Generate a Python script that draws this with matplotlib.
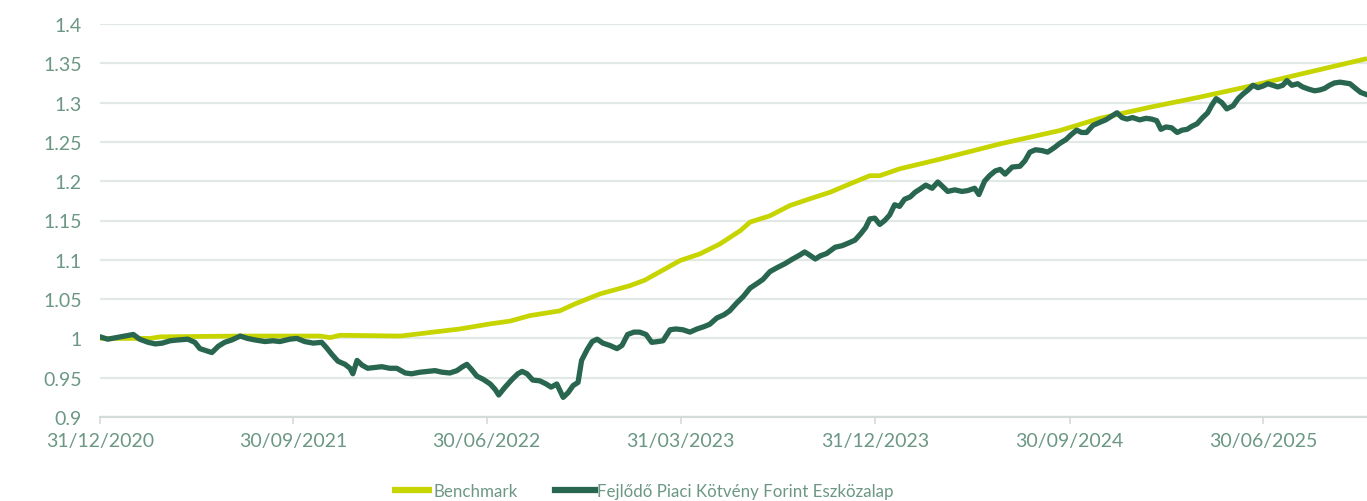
import matplotlib
matplotlib.use("Agg")
import matplotlib.pyplot as plt
import matplotlib.dates as mdates
import pandas as pd

# ---- data ----
start_date = "2020-12-31"
end_date = "2025-11-24"

# days elapsed since 31/12/2020, and index values
fund_days = [0, 11, 23, 35, 47, 56, 68, 78, 88, 99, 110, 124, 134, 141, 151, 158, 167, 176, 186, 198,
             208, 219, 233, 244, 254, 268, 278, 289, 301, 313, 320, 328, 336, 346, 353, 357, 363, 370,
             378, 388, 398, 409, 419, 431, 440, 452, 463, 473, 483, 494, 504, 512, 518, 525, 532, 541,
             551, 558, 563, 572, 582, 590, 596, 603, 611, 621, 630, 637, 645, 654, 661, 668, 675, 680,
             688, 695, 702, 710, 720, 730, 737, 745, 754, 762, 771, 779, 788, 795, 805, 813, 823, 833,
             843, 853, 861, 871, 881, 889, 899, 908, 918, 928, 936, 946, 956, 967, 978, 988, 995, 1002,
             1010, 1017, 1026, 1038, 1048, 1056, 1066, 1074, 1081, 1087, 1094, 1101, 1108, 1115, 1122,
             1129, 1136, 1144, 1151, 1158, 1166, 1175, 1183, 1190, 1197, 1207, 1217, 1225, 1235, 1241,
             1249, 1256, 1264, 1271, 1278, 1288, 1299, 1306, 1313, 1321, 1330, 1338, 1348, 1355, 1364,
             1371, 1379, 1386, 1393, 1402, 1412, 1420, 1429, 1436, 1443, 1450, 1458, 1468, 1477, 1485,
             1492, 1498, 1505, 1513, 1521, 1528, 1535, 1542, 1549, 1557, 1564, 1570, 1576, 1584, 1591,
             1600, 1607, 1614, 1621, 1628, 1635, 1642, 1649, 1656, 1663, 1670, 1676, 1683, 1691, 1698,
             1707, 1715, 1722, 1729, 1736, 1743, 1751, 1765, 1773, 1780, 1789]
fund_values = [1.002, 0.999, 1.001, 1.003, 1.005, 0.999, 0.995, 0.993, 0.994, 0.997, 0.998, 0.999, 0.995,
               0.987, 0.984, 0.982, 0.990, 0.995, 0.998, 1.003, 1.000, 0.998, 0.996, 0.997, 0.996, 0.999,
               1.000, 0.996, 0.994, 0.995, 0.988, 0.979, 0.971, 0.967, 0.962, 0.955, 0.972, 0.966, 0.962,
               0.963, 0.964, 0.962, 0.962, 0.956, 0.955, 0.957, 0.958, 0.959, 0.957, 0.956, 0.959, 0.964,
               0.967, 0.960, 0.952, 0.948, 0.942, 0.935, 0.928, 0.938, 0.948, 0.955, 0.958, 0.955, 0.947,
               0.946, 0.942, 0.938, 0.942, 0.925, 0.931, 0.940, 0.944, 0.972, 0.986, 0.996, 0.999, 0.994,
               0.991, 0.987, 0.991, 1.005, 1.008, 1.008, 1.005, 0.995, 0.996, 0.997, 1.011, 1.012, 1.011,
               1.008, 1.012, 1.015, 1.018, 1.026, 1.030, 1.035, 1.045, 1.053, 1.064, 1.070, 1.075, 1.085,
               1.090, 1.095, 1.101, 1.106, 1.110, 1.106, 1.101, 1.105, 1.108, 1.116, 1.118, 1.121, 1.125,
               1.133, 1.141, 1.152, 1.153, 1.145, 1.150, 1.157, 1.170, 1.168, 1.177, 1.180, 1.186, 1.190,
               1.195, 1.191, 1.199, 1.193, 1.187, 1.189, 1.187, 1.188, 1.191, 1.183, 1.200, 1.207, 1.213,
               1.215, 1.209, 1.218, 1.219, 1.226, 1.237, 1.240, 1.239, 1.237, 1.243, 1.248, 1.253, 1.259,
               1.265, 1.262, 1.262, 1.271, 1.275, 1.278, 1.283, 1.287, 1.281, 1.279, 1.281, 1.278, 1.280,
               1.279, 1.277, 1.266, 1.269, 1.268, 1.262, 1.265, 1.266, 1.270, 1.273, 1.281, 1.287, 1.297,
               1.305, 1.300, 1.292, 1.296, 1.305, 1.311, 1.316, 1.322, 1.319, 1.321, 1.324, 1.322, 1.320,
               1.322, 1.328, 1.322, 1.324, 1.320, 1.317, 1.315, 1.316, 1.318, 1.322, 1.325, 1.326, 1.324,
               1.318, 1.313, 1.310]

bench_days = [0, 71, 85, 198, 311, 325, 339, 424, 452, 508, 551, 579, 607, 649, 671, 706, 748, 769, 819,
              847, 875, 904, 918, 946, 974, 1002, 1031, 1059, 1087, 1101, 1129, 1186, 1271, 1355, 1412,
              1482, 1553, 1624, 1694, 1789]
bench_values = [1.000, 1.000, 1.002, 1.003, 1.003, 1.001, 1.004, 1.003, 1.006, 1.012, 1.0185, 1.022,
                1.029, 1.035, 1.044, 1.0566, 1.067, 1.074, 1.099, 1.1075, 1.120, 1.137, 1.148, 1.156,
                1.169, 1.1775, 1.186, 1.1966, 1.207, 1.207, 1.2157, 1.228, 1.2475, 1.2644, 1.280,
                1.294, 1.307, 1.321, 1.336, 1.356]

series_names = ["Benchmark", "Fejlődő Piaci Kötvény Forint Eszközalap"]
x_tick_dates = ["2020-12-31", "2021-09-30", "2022-06-30", "2023-03-31",
                "2023-12-31", "2024-09-30", "2025-06-30"]
y_ticks = [0.9, 0.95, 1.0, 1.05, 1.1, 1.15, 1.2, 1.25, 1.3, 1.35, 1.4]
y_tick_labels = ["0.9", "0.95", "1", "1.05", "1.1", "1.15", "1.2", "1.25", "1.3", "1.35", "1.4"]

# ---- styling ----
plt.rcParams['font.family'] = ['Lato', 'DejaVu Sans']
TEXT = "#6b9784"
FUND = "#28664f"
BENCH = "#c6d400"
GRID = "#e2e8e6"

t0 = pd.Timestamp(start_date)
fund_dates = [t0 + pd.Timedelta(days=d) for d in fund_days]
bench_dates = [t0 + pd.Timedelta(days=d) for d in bench_days]

fig = plt.figure(figsize=(13.67, 5.02), dpi=100)
ax = fig.add_axes([100 / 1367, 1 - 418 / 502, 1 - 100 / 1367, (418 - 25) / 502])

ax.plot(bench_dates, bench_values, color=BENCH, lw=3.4, solid_capstyle='butt',
        label=series_names[0], zorder=3)
ax.plot(fund_dates, fund_values, color=FUND, lw=3.8, solid_joinstyle='round',
        label=series_names[1], zorder=4)

ax.set_xlim(t0, pd.Timestamp(end_date))
ax.set_ylim(0.9, 1.4)
ax.set_yticks(y_ticks)
ax.set_yticklabels(y_tick_labels)
ax.set_xticks([pd.Timestamp(d) for d in x_tick_dates])
ax.xaxis.set_major_formatter(mdates.DateFormatter("%d/%m/%Y"))

ax.grid(axis='y', color=GRID, lw=1.6, zorder=0)
ax.set_axisbelow(True)
for s in ['top', 'right', 'left']:
    ax.spines[s].set_visible(False)
ax.spines['bottom'].set_color("#d3dcd9")
ax.spines['bottom'].set_linewidth(1.6)

ax.tick_params(axis='y', length=0, pad=13, labelsize=14, labelcolor=TEXT)
ax.tick_params(axis='x', length=5, width=1.2, color="#d3dcd9", pad=6,
               labelsize=14, labelcolor=TEXT)

leg = fig.legend(loc='center', bbox_to_anchor=(0.47, 0.02), ncol=2, frameon=False,
                 fontsize=12.2, handlelength=2.35, handletextpad=0.1, columnspacing=2.2)
for txt in leg.get_texts():
    txt.set_color(TEXT)
for line in leg.get_lines():
    line.set_linewidth(4.5)

fig.savefig("out.png", dpi=100)
